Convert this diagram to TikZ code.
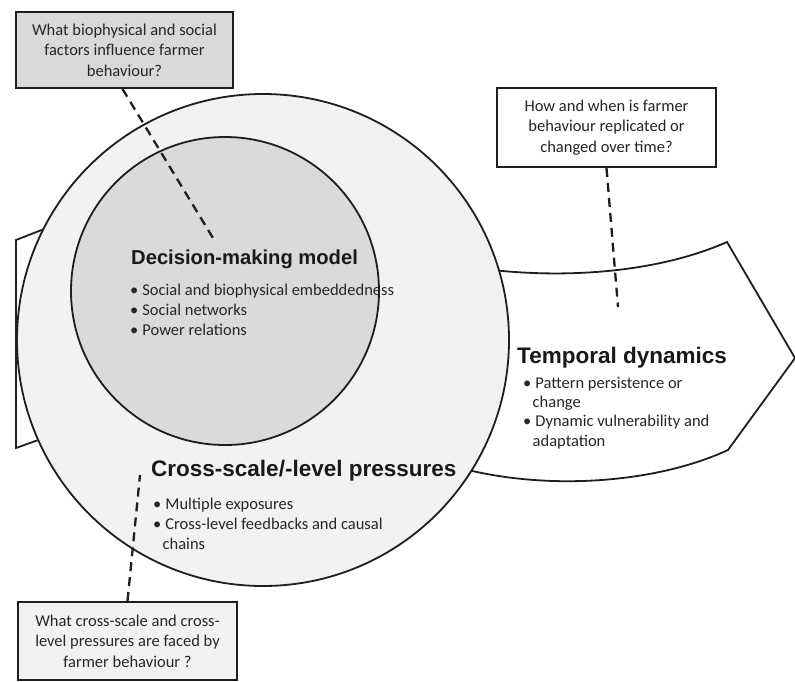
\documentclass[tikz,border=0pt]{standalone}
\usepackage{fontspec}
\setmainfont{Carlito}
\newfontfamily\headfont{Liberation Sans}
\definecolor{outerfill}{HTML}{F2F2F2}
\definecolor{innerfill}{HTML}{DADADA}
\definecolor{boxgray}{HTML}{D9D9D9}
\definecolor{inkc}{HTML}{1E1E1E}
\begin{document}
\begin{tikzpicture}[x=1pt,y=-1pt,
  outline/.style={draw=inkc,line width=1.8pt,line join=miter},
  qbox/.style={draw=inkc,line width=2pt,align=center,inner sep=0pt,
    font=\fontsize{16.5}{20.5}\selectfont,text=black!85},
  headtxt/.style={anchor=base west,inner sep=0pt,font=\headfont\bfseries\fontsize{22.5}{24}\selectfont,text=black!90},
  bultxt/.style={anchor=base west,inner sep=0pt,align=left,font=\fontsize{16.5}{20}\selectfont,text=black!85},
  dashline/.style={draw=inkc,line width=2.3pt,dash pattern=on 9pt off 6pt}]
\useasboundingbox (0,0) rectangle (795,681);
% left tail of the band
\draw[outline,fill=white] (80,215) -- (16,240) -- (16,448) -- (80,425) -- cycle;
% right part of the band (arrow)
\draw[outline,fill=white] (440,262) .. controls (540,282) and (650,276) .. (727,242)
  -- (795,358) -- (728,450) .. controls (650,486) and (530,492) .. (440,462) -- cycle;
% circles
\draw[outline,fill=outerfill] (263,340) circle[radius=246];
\draw[outline,fill=innerfill] (225,291) circle[radius=154];
% boxes
\node[qbox,fill=boxgray,minimum width=217pt,minimum height=76pt] (q1) at (124.5,50)
  {What biophysical and social\\factors influence farmer\\behaviour?};
\node[qbox,fill=white,minimum width=219pt,minimum height=79pt] (q2) at (606.5,127.5)
  {How and when is farmer\\behaviour replicated or\\changed over time?};
\node[qbox,fill=outerfill,minimum width=219pt,minimum height=78pt] (q3) at (127.5,641)
  {What cross-scale and cross-\\level pressures are faced by\\farmer behaviour ?};
% dashed connectors
\coordinate (e1) at (213,238);
\coordinate (e2) at (618,307);
\coordinate (e3) at (140,475);
\draw[dashline] ([xshift=-2pt]q1.south) -- (e1);
\draw[dashline] (q2.south) -- (e2);
\draw[dashline] (q3.north) -- (e3);
% headings and bullets
\node[headtxt,font=\headfont\bfseries\fontsize{20.2}{24}\selectfont] (h1) at (131,264) {Decision-making model};
\node[bultxt] (b1) at (130,335) {\textbullet\hspace{4pt}Social and biophysical embeddedness\\
  \textbullet\hspace{4pt}Social networks\\\textbullet\hspace{4pt}Power relations};
\node[headtxt] (h2) at (517,363) {Temporal dynamics};
\node[bultxt,font=\fontsize{16.5}{19.3}\selectfont] (b2) at (523,446) {\textbullet\hspace{4pt}Pattern persistence or\\
  \hspace{9.5pt}change\\\textbullet\hspace{4pt}Dynamic vulnerability and\\\hspace{9.5pt}adaptation};
\node[headtxt] (h3) at (151,476) {Cross-scale/-level pressures};
\node[bultxt] (b3) at (153,549) {\textbullet\hspace{4pt}Multiple exposures\\
  \textbullet\hspace{4pt}Cross-level feedbacks and causal\\\hspace{9.5pt}chains};
\end{tikzpicture}
\end{document}
